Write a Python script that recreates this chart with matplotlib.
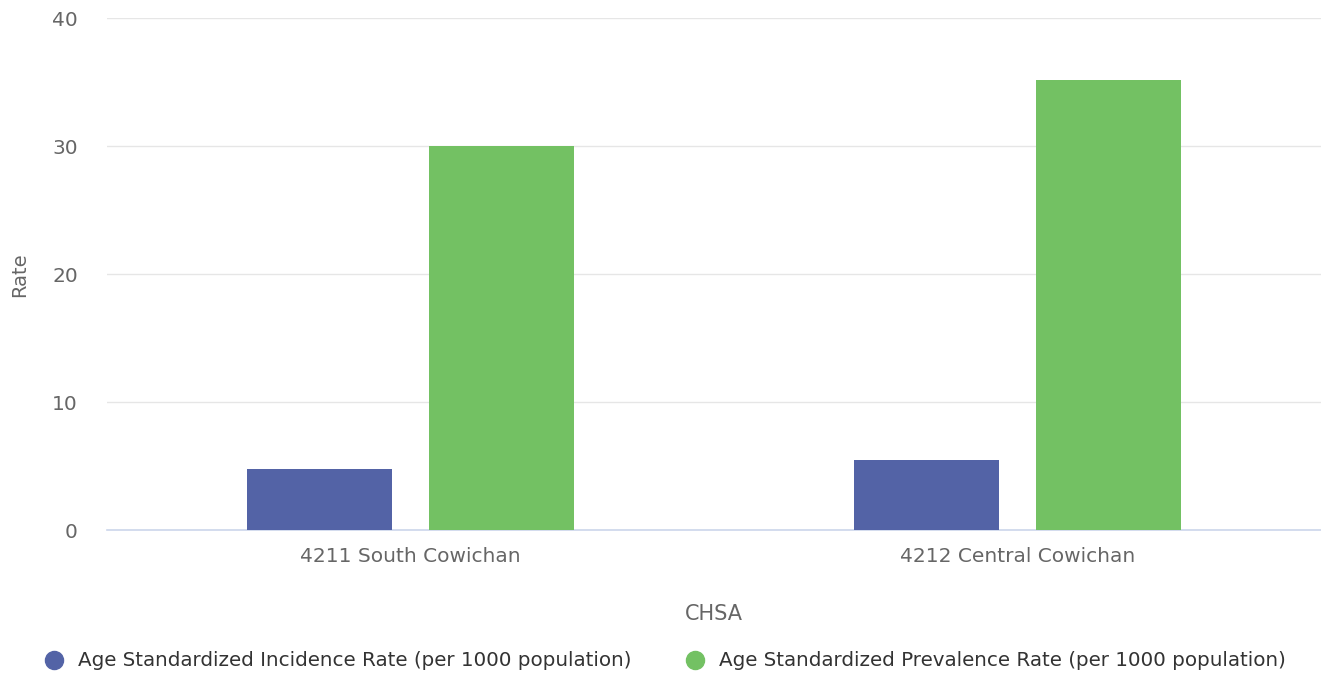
import matplotlib.pyplot as plt
from matplotlib.lines import Line2D
import numpy as np

categorias = ["4211 South Cowichan", "4212 Central Cowichan"]
incidencia = [4.75, 5.45]
prevalencia = [30.0, 35.15]
series = ["Age Standardized Incidence Rate (per 1000 population)",
          "Age Standardized Prevalence Rate (per 1000 population)"]
cores = ["#5363a6", "#73c163"]

plt.rcParams['font.family'] = ['DejaVu Sans']

fig = plt.figure(figsize=(13.21, 6.75), dpi=100)
ax = fig.add_axes([107/1321, 1-530/675, 1-107/1321, (530-18)/675])

x = np.arange(len(categorias))
largura = 0.239
ax.bar(x - 0.15, incidencia, width=largura, color=cores[0], zorder=3)
ax.bar(x + 0.15, prevalencia, width=largura, color=cores[1], zorder=3)

ax.set_xlim(-0.5, 1.5)
ax.set_ylim(0, 40)
ax.set_yticks([0, 10, 20, 30, 40])
ax.set_xticks(x)
ax.set_xticklabels(categorias)
ax.grid(axis='y', color='#e6e6e6', linewidth=1, zorder=0)
for s in ['top', 'right', 'left']:
    ax.spines[s].set_visible(False)
ax.spines['bottom'].set_color('#ccd6eb')
ax.spines['bottom'].set_linewidth(1.2)
ax.tick_params(axis='both', length=0, colors='#666666', labelsize=14.5)
ax.tick_params(axis='x', pad=12)
ax.tick_params(axis='y', pad=21)

fig.text(20/1321, 1-275/675, "Rate", rotation=90, ha='center', va='center',
         color='#666666', fontsize=14)
fig.text(714/1321, 1-614/675, "CHSA", ha='center', va='center',
         color='#666666', fontsize=15)

# legenda
handles = [Line2D([], [], marker='o', linestyle='', markersize=13, color=c) for c in cores]
fig.legend(handles, series, loc='center', bbox_to_anchor=(660/1321, 1-661/675),
           ncol=2, frameon=False, fontsize=14.3, handletextpad=0.2, columnspacing=2.2,
           labelcolor='#333333')

fig.savefig("out.png", dpi=100)
